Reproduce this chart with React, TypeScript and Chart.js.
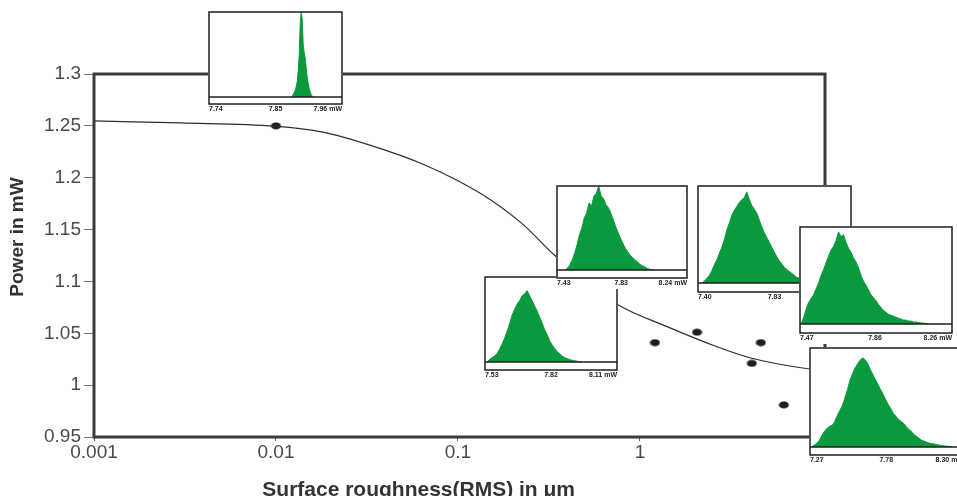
import React, { useEffect, useRef } from 'react';
import { Chart, registerables } from 'chart.js';
Chart.register(...registerables);

const FONT = "'Liberation Sans', Arial, Helvetica, sans-serif";

// ---- main axes ----
const xTickValues = [0.001, 0.01, 0.1, 1, 10];
const xTickLabels = ['0.001', '0.01', '0.1', '1', '10'];
const yTickValues = [0.95, 1, 1.05, 1.1, 1.15, 1.2, 1.25, 1.3];
const yTickLabels = ['0.95', '1', '1.05', '1.1', '1.15', '1.2', '1.25', '1.3'];
const xTitle = 'Surface roughness(RMS) in \u03bcm';
const yTitle = 'Power in mW';

// ---- fitted curve (roughness in um, power in mW) ----
const curveX = [0.001, 0.003, 0.00986, 0.0181, 0.0341, 0.0643, 0.0988, 0.15, 0.2276, 0.341, 0.5, 0.757, 1.41, 2.65, 4.02, 8.38, 10.4];
const curveY = [1.2548, 1.2528, 1.2497, 1.2439, 1.2304, 1.213, 1.1975, 1.179, 1.155, 1.125, 1.101, 1.0776, 1.0564, 1.037, 1.0264, 1.0158, 1.0145];

// ---- measured points ----
const measX = [0.01, 1.21, 2.06, 4.62, 4.12, 6.18];
const measY = [1.25, 1.041, 1.051, 1.041, 1.021, 0.981];

// ---- inset histograms (power in mW, relative counts) ----
const hist1Ticks = [7.74, 7.85, 7.96];
const hist1Labels = ['7.74', '7.85', '7.96 mW'];
const hist1Start = 7.876;
const hist1Step = 0.00165;
const hist1Counts = [0, 0.01, 0.03, 0.05, 0.08, 0.12, 0.18, 0.3, 0.5, 0.85, 1.0, 0.92, 0.62, 0.52, 0.46, 0.34, 0.24, 0.16, 0.1, 0.06, 0.03, 0.01, 0];

const hist2Ticks = [7.43, 7.83, 8.24];
const hist2Labels = ['7.43', '7.83', '8.24 mW'];
const hist2Start = 7.48;
const hist2Step = 0.015;
const hist2Counts = [0, 0.02, 0.06, 0.12, 0.2, 0.3, 0.42, 0.5, 0.62, 0.68, 0.8, 0.76, 0.88, 0.91, 1.0, 0.88, 0.85, 0.78, 0.74, 0.68, 0.6, 0.52, 0.45, 0.38, 0.32, 0.26, 0.22, 0.18, 0.15, 0.12, 0.1, 0.07, 0.05, 0.04, 0.02, 0.01, 0.005, 0];

const hist3Ticks = [7.53, 7.82, 8.11];
const hist3Labels = ['7.53', '7.82', '8.11 mW'];
const hist3Start = 7.539;
const hist3Step = 0.011;
const hist3Counts = [0, 0.03, 0.05, 0.07, 0.1, 0.15, 0.21, 0.28, 0.36, 0.45, 0.55, 0.62, 0.68, 0.72, 0.78, 0.8, 0.84, 0.78, 0.72, 0.66, 0.6, 0.53, 0.46, 0.38, 0.32, 0.25, 0.2, 0.16, 0.12, 0.1, 0.07, 0.05, 0.04, 0.03, 0.02, 0.015, 0.01, 0.005, 0];

const hist4Ticks = [7.40, 7.83, 8.26];
const hist4Labels = ['7.40', '7.83', '8.26 mW'];
const hist4Start = 7.4225;
const hist4Step = 0.014;
const hist4Counts = [0, 0.02, 0.05, 0.08, 0.13, 0.19, 0.24, 0.31, 0.37, 0.45, 0.55, 0.62, 0.7, 0.75, 0.79, 0.83, 0.86, 0.88, 0.94, 0.86, 0.8, 0.76, 0.72, 0.65, 0.58, 0.52, 0.47, 0.42, 0.37, 0.32, 0.27, 0.23, 0.2, 0.16, 0.14, 0.12, 0.1, 0.08, 0.06, 0.05, 0.04, 0.03, 0.02, 0.015, 0.01, 0];

const hist5Ticks = [7.47, 7.86, 8.26];
const hist5Labels = ['7.47', '7.86', '8.26 mW'];
const hist5Start = 7.4752;
const hist5Step = 0.013;
const hist5Counts = [0, 0.06, 0.15, 0.22, 0.26, 0.3, 0.36, 0.42, 0.5, 0.56, 0.63, 0.7, 0.76, 0.8, 0.86, 0.95, 0.9, 0.92, 0.84, 0.78, 0.74, 0.68, 0.64, 0.58, 0.5, 0.44, 0.4, 0.35, 0.3, 0.27, 0.24, 0.2, 0.17, 0.14, 0.12, 0.1, 0.09, 0.08, 0.07, 0.06, 0.05, 0.04, 0.04, 0.03, 0.03, 0.02, 0.02, 0.015, 0.01, 0.01, 0.005, 0];

const hist6Ticks = [7.27, 7.78, 8.30];
const hist6Labels = ['7.27', '7.78', '8.30 mW'];
const hist6Start = 7.283;
const hist6Step = 0.017;
const hist6Counts = [0, 0.02, 0.04, 0.07, 0.12, 0.16, 0.19, 0.21, 0.22, 0.26, 0.32, 0.37, 0.42, 0.5, 0.58, 0.68, 0.74, 0.8, 0.84, 0.88, 0.9, 0.88, 0.84, 0.78, 0.73, 0.68, 0.63, 0.58, 0.53, 0.48, 0.43, 0.39, 0.34, 0.31, 0.28, 0.26, 0.24, 0.21, 0.18, 0.16, 0.13, 0.11, 0.09, 0.07, 0.06, 0.05, 0.04, 0.035, 0.03, 0.025, 0.02, 0.015, 0.01, 0.01, 0.005, 0];

type HistSpec = { ticks: number[]; labels: string[]; start: number; step: number; counts: number[] };
type Box = { left: number; top: number; width: number; boxH: number; histH: number };

const hists: HistSpec[] = [
  { ticks: hist1Ticks, labels: hist1Labels, start: hist1Start, step: hist1Step, counts: hist1Counts },
  { ticks: hist3Ticks, labels: hist3Labels, start: hist3Start, step: hist3Step, counts: hist3Counts },
  { ticks: hist2Ticks, labels: hist2Labels, start: hist2Start, step: hist2Step, counts: hist2Counts },
  { ticks: hist4Ticks, labels: hist4Labels, start: hist4Start, step: hist4Step, counts: hist4Counts },
  { ticks: hist5Ticks, labels: hist5Labels, start: hist5Start, step: hist5Step, counts: hist5Counts },
  { ticks: hist6Ticks, labels: hist6Labels, start: hist6Start, step: hist6Step, counts: hist6Counts },
];

// layout of the insets (page pixels), same order as hists
const boxes: Box[] = [
  { left: 209, top: 12, width: 133, boxH: 92, histH: 85 },
  { left: 485, top: 277, width: 132, boxH: 93, histH: 85 },
  { left: 557, top: 186, width: 130, boxH: 92, histH: 84 },
  { left: 698, top: 186, width: 153, boxH: 106, histH: 97 },
  { left: 800, top: 227, width: 152, boxH: 106, histH: 97 },
  { left: 810, top: 348, width: 154, boxH: 107, histH: 99 },
];

const LABEL_H = 11;
const GREEN = '#0a9a3d';

function Inset({ spec, box }: { spec: HistSpec; box: Box }) {
  const ref = useRef<HTMLCanvasElement>(null);
  useEffect(() => {
    const framePlugin = {
      id: 'insetFrame',
      afterDatasetsDraw(chart: any) {
        const { ctx, chartArea: a } = chart;
        const y0 = chart.scales.y.getPixelForValue(0);
        ctx.save();
        ctx.strokeStyle = '#1e1e1e';
        ctx.lineWidth = 1.5;
        ctx.strokeRect(a.left, a.top, a.right - a.left, a.bottom - a.top);
        ctx.beginPath();
        ctx.moveTo(a.left, y0);
        ctx.lineTo(a.right, y0);
        ctx.stroke();
        ctx.restore();
      },
    };
    const gap = (box.boxH - box.histH) / box.histH;
    const chart = new Chart(ref.current!, {
      type: 'line',
      data: {
        datasets: [
          {
            data: spec.counts.map((c, i) => ({ x: spec.start + i * spec.step, y: c })),
            borderColor: GREEN,
            backgroundColor: GREEN,
            borderWidth: 1,
            pointRadius: 0,
            fill: 'origin',
            tension: 0,
          },
        ],
      },
      options: {
        animation: false,
        responsive: false,
        devicePixelRatio: 1,
        layout: { padding: { left: 1, right: 1, top: 1, bottom: 0 } },
        plugins: { legend: { display: false }, tooltip: { enabled: false } },
        scales: {
          x: {
            type: 'linear',
            min: spec.ticks[0],
            max: spec.ticks[2],
            afterBuildTicks: (s: any) => {
              s.ticks = spec.ticks.map((v) => ({ value: v }));
            },
            afterFit: (s: any) => {
              s.height = LABEL_H;
            },
            ticks: {
              callback: (_v: any, i: number) => spec.labels[i],
              align: 'inner',
              font: { family: FONT, size: 7, weight: 'bold' },
              color: '#222',
              padding: 1,
              maxRotation: 0,
              autoSkip: false,
            },
            grid: { display: false, drawTicks: false },
            border: { display: false },
          },
          y: {
            display: false,
            min: -gap,
            max: 1,
          },
        },
      } as any,
      plugins: [framePlugin],
    });
    return () => chart.destroy();
  }, []);
  const w = box.width + 2;
  const h = box.boxH + 1 + LABEL_H;
  return (
    <canvas
      ref={ref}
      width={w}
      height={h}
      style={{ position: 'absolute', left: box.left - 1, top: box.top - 1, width: w, height: h, background: '#fff' }}
    />
  );
}

function MainChart() {
  const ref = useRef<HTMLCanvasElement>(null);
  useEffect(() => {
    const dot = document.createElement('canvas');
    dot.width = 11;
    dot.height = 8;
    const dc = dot.getContext('2d')!;
    dc.fillStyle = '#1e1e1e';
    dc.beginPath();
    dc.ellipse(5.5, 4, 5, 3.6, 0, 0, Math.PI * 2);
    dc.fill();

    const framePlugin = {
      id: 'mainFrame',
      afterDatasetsDraw(chart: any) {
        const { ctx, chartArea: a } = chart;
        ctx.save();
        ctx.strokeStyle = '#3a3a3a';
        ctx.lineWidth = 3;
        ctx.strokeRect(a.left, a.top, a.right - a.left, a.bottom - a.top);
        ctx.restore();
      },
    };

    const chart = new Chart(ref.current!, {
      type: 'scatter',
      data: {
        datasets: [
          {
            data: curveX.map((x, i) => ({ x, y: curveY[i] })),
            showLine: true,
            borderColor: '#2e2e2e',
            borderWidth: 1.2,
            pointRadius: 0,
            cubicInterpolationMode: 'monotone',
            fill: false,
          },
          {
            data: measX.map((x, i) => ({ x, y: measY[i] })),
            showLine: false,
            pointStyle: dot,
            pointRadius: 5,
          },
        ],
      },
      options: {
        animation: false,
        responsive: false,
        devicePixelRatio: 1,
        layout: { padding: { left: 0, top: 74, right: 132, bottom: 0 } },
        plugins: { legend: { display: false }, tooltip: { enabled: false } },
        scales: {
          x: {
            type: 'logarithmic',
            min: 0.001,
            max: 10.4,
            afterBuildTicks: (s: any) => {
              s.ticks = xTickValues.map((v) => ({ value: v }));
            },
            afterFit: (s: any) => {
              s.height = 59;
            },
            ticks: {
              callback: (_v: any, i: number) => xTickLabels[i],
              font: { family: FONT, size: 19 },
              color: '#4a4a4a',
              padding: 0,
              maxRotation: 0,
              autoSkip: false,
            },
            grid: { display: true, drawOnChartArea: false, drawTicks: true, tickLength: 4, color: '#666', lineWidth: 1 },
            border: { display: false },
            title: {
              display: true,
              text: xTitle + '              ',
              font: { family: FONT, size: 21, weight: 'bold' },
              color: '#333',
              padding: { top: 0, bottom: -7 },
            },
          },
          y: {
            type: 'linear',
            min: 0.95,
            max: 1.3,
            afterBuildTicks: (s: any) => {
              s.ticks = yTickValues.map((v) => ({ value: v }));
            },
            afterFit: (s: any) => {
              s.width = 94;
            },
            ticks: {
              callback: (_v: any, i: number) => yTickLabels[i],
              font: { family: FONT, size: 19 },
              color: '#4a4a4a',
              padding: 3,
              autoSkip: false,
            },
            grid: { display: true, drawOnChartArea: false, drawTicks: true, tickLength: 10, color: '#777', lineWidth: 1 },
            border: { display: false },
            title: {
              display: true,
              text: '       ' + yTitle,
              font: { family: FONT, size: 19, weight: 'bold' },
              color: '#333',
              padding: { top: 6, bottom: 0 },
            },
          },
        },
      } as any,
      plugins: [framePlugin],
    });
    return () => chart.destroy();
  }, []);
  return <canvas ref={ref} width={957} height={496} style={{ position: 'absolute', left: 0, top: 0, width: 957, height: 496 }} />;
}

export default function App() {
  return (
    <div style={{ position: 'fixed', left: 0, top: 0, width: 957, height: 496, overflow: 'hidden', background: '#fff' }}>
      <MainChart />
      {hists.map((h, i) => (
        <Inset key={i} spec={h} box={boxes[i]} />
      ))}
    </div>
  );
}
